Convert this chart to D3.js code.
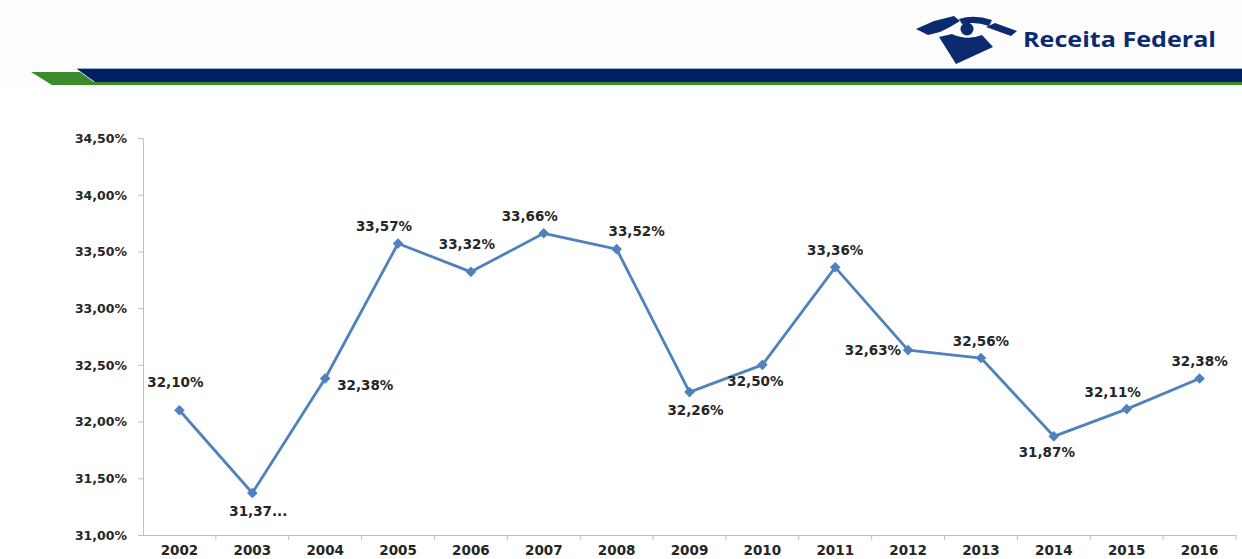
<!DOCTYPE html>
<html>
<head>
<meta charset="utf-8">
<script src="https://cdn.jsdelivr.net/npm/d3@7"></script>
<style>
  html, body { margin: 0; padding: 0; background: #ffffff; }
  svg { display: block; }
  .tick text { font-family: "DejaVu Sans", Verdana, sans-serif; font-weight: bold; fill: #262626; }
</style>
</head>
<body>
<svg id="chart" width="1242" height="559"></svg>
<script>
// Carga tributária bruta (% do PIB), 2002–2016
const years = ["2002","2003","2004","2005","2006","2007","2008","2009","2010","2011","2012","2013","2014","2015","2016"];
const values = [32.10, 31.37, 32.38, 33.57, 33.32, 33.66, 33.52, 32.26, 32.50, 33.36, 32.63, 32.56, 31.87, 32.11, 32.38];
const valueLabels = ["32,10%","31,37...","32,38%","33,57%","33,32%","33,66%","33,52%","32,26%","32,50%","33,36%","32,63%","32,56%","31,87%","32,11%","32,38%"];
const yTicks = [31.0, 31.5, 32.0, 32.5, 33.0, 33.5, 34.0, 34.5];

// where each value label sits relative to its marker
const labelPlacement = ["above-far","below","right","above-left","above-far","above-left","above-right","below","below-left","above","left","above","below-left","above-left","above"];
const placementOffsets = {
  "above":       { dx: 0,   dy: -12, anchor: "middle" },
  "above-far":   { dx: -4,  dy: -23, anchor: "middle" },
  "above-left":  { dx: -14, dy: -12, anchor: "middle" },
  "above-right": { dx: 20,  dy: -13, anchor: "middle" },
  "below":       { dx: 6,   dy: 23,  anchor: "middle" },
  "below-left":  { dx: -7,  dy: 21,  anchor: "middle" },
  "right":       { dx: 12,  dy: 12,  anchor: "start" },
  "left":        { dx: -7,  dy: 5,   anchor: "end" }
};

const svg = d3.select("#chart");
const navy = "#0b2a6f";
const green = "#3b8a2c";

// ---- header strip with logo ----
svg.append("rect").attr("x", 0).attr("y", 0).attr("width", 1242).attr("height", 88).attr("fill", "#fdfdfd");
// green underline and left tab
svg.append("polygon").attr("points", "31,72 80,72 98,85 52,85").attr("fill", green);
svg.append("rect").attr("x", 80).attr("y", 82).attr("width", 1162).attr("height", 3).attr("fill", green);
// navy band
svg.append("polygon").attr("points", "77,69 1242,69 1242,82 95,82").attr("fill", "#002063");
svg.append("line").attr("x1", 77).attr("x2", 1242).attr("y1", 68.5).attr("y2", 68.5).attr("stroke", "#9fb3d6").attr("stroke-width", 1);

// emblem
const emblem = svg.append("g").attr("transform", "translate(914,14)").attr("fill", navy);
emblem.append("polygon").attr("points", "2,15 20,7 40,2 46,7 36,13 26,18 14,21");
emblem.append("path").attr("d", "M45,5 Q60,0 78,6 L75,12 Q62,7 48,10 Z");
emblem.append("circle").attr("cx", 53).attr("cy", 15).attr("r", 6.5);
emblem.append("polygon").attr("points", "72,13 81,9 103,17 97,22");
emblem.append("path").attr("d", "M25,23 L38,20 Q53,27 68,21 L79,33 L42,50 Z");

svg.append("text")
  .attr("x", 1023).attr("y", 47)
  .attr("font-family", "'Open Sans', 'DejaVu Sans', sans-serif")
  .attr("font-weight", "bold")
  .attr("font-size", 21)
  .attr("textLength", 193)
  .attr("lengthAdjust", "spacingAndGlyphs")
  .attr("fill", navy)
  .text("Receita Federal");

// ---- chart ----
const plotLeft = 143, plotRight = 1236, plotTop = 138, plotBottom = 535;

const x = d3.scaleBand().domain(years).range([plotLeft, plotRight]).padding(0);
const y = d3.scaleLinear().domain([31, 34.5]).range([plotBottom, plotTop]);

const ptBR = d3.formatLocale({ decimal: ",", thousands: ".", grouping: [3], currency: ["R$", ""] });
const fmt = ptBR.format(".2f");

const axisColor = "#bfbfbf";

// y axis
const yAxis = svg.append("g")
  .attr("transform", `translate(${plotLeft},0)`)
  .call(d3.axisLeft(y).tickValues(yTicks).tickSize(5).tickPadding(11).tickFormat(d => fmt(d) + "%"));
yAxis.select(".domain").attr("stroke", axisColor);
yAxis.selectAll(".tick line").attr("stroke", axisColor);
yAxis.selectAll(".tick text").attr("font-size", 12.5).attr("dy", "0.35em");

// x axis
const xAxis = svg.append("g")
  .attr("transform", `translate(0,${plotBottom})`)
  .call(d3.axisBottom(x).tickSize(0).tickPadding(10));
xAxis.select(".domain").attr("stroke", axisColor);
xAxis.selectAll(".tick text").attr("font-size", 13.5);
// tick marks on category boundaries
xAxis.selectAll("line.boundary")
  .data(years)
  .join("line")
  .attr("class", "boundary")
  .attr("x1", d => x(d) + x.bandwidth())
  .attr("x2", d => x(d) + x.bandwidth())
  .attr("y1", 0).attr("y2", 5)
  .attr("stroke", axisColor);

const cx = d => x(d) + x.bandwidth() / 2;
const points = years.map((yr, i) => ({ yr, v: values[i], label: valueLabels[i], place: labelPlacement[i] }));

// series line
svg.append("path")
  .datum(points)
  .attr("fill", "none")
  .attr("stroke", "#4f81bd")
  .attr("stroke-width", 2.8)
  .attr("stroke-linejoin", "round")
  .attr("d", d3.line().x(d => cx(d.yr)).y(d => y(d.v)));

// diamond markers
svg.append("g").selectAll("path")
  .data(points)
  .join("path")
  .attr("transform", d => `translate(${cx(d.yr)},${y(d.v)})`)
  .attr("d", d3.symbol().type(d3.symbolDiamond2).size(72))
  .attr("fill", "#4f81bd");

// value labels
svg.append("g").selectAll("text")
  .data(points)
  .join("text")
  .attr("x", d => cx(d.yr) + placementOffsets[d.place].dx)
  .attr("y", d => y(d.v) + placementOffsets[d.place].dy)
  .attr("text-anchor", d => placementOffsets[d.place].anchor)
  .attr("font-family", "'DejaVu Sans', Verdana, sans-serif")
  .attr("font-weight", "bold")
  .attr("font-size", 13.5)
  .attr("fill", "#262626")
  .text(d => d.label);
</script>
</body>
</html>
